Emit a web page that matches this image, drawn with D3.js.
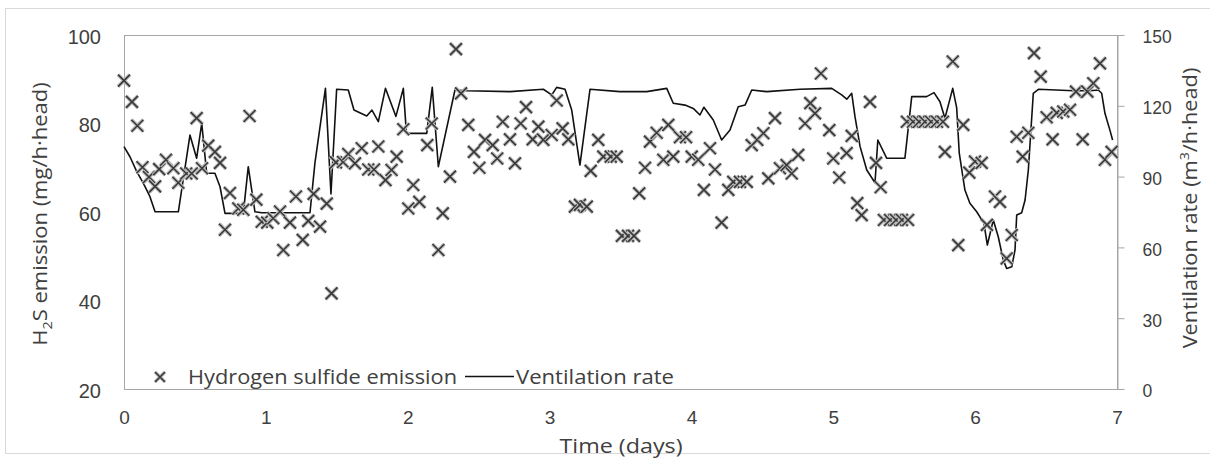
<!DOCTYPE html>
<html>
<head>
<meta charset="utf-8">
<script src="https://cdn.jsdelivr.net/npm/d3@7"></script>
<style>
  html, body { margin: 0; padding: 0; background: #fff; }
  svg { display: block; font-family: "Open Sans", "Noto Sans", sans-serif; }
</style>
</head>
<body>
<svg id="chart" width="1210" height="458"></svg>
<script>
// H2S emission samples: time (days) and emission (mg/h·head)
const emissionDays = [
  0.000, 0.056, 0.094, 0.130, 0.176, 0.219, 0.248, 0.296, 0.348, 0.383,
  0.439, 0.477, 0.512, 0.550, 0.594, 0.641, 0.677, 0.712, 0.747, 0.806,
  0.841, 0.885, 0.933, 0.971, 1.010, 1.052, 1.100, 1.123, 1.170, 1.212,
  1.260, 1.299, 1.337, 1.382, 1.429, 1.463, 1.494, 1.544, 1.581, 1.628,
  1.676, 1.722, 1.762, 1.793, 1.843, 1.886, 1.922, 1.969, 2.004, 2.039,
  2.082, 2.138, 2.169, 2.216, 2.247, 2.298, 2.340, 2.376, 2.427, 2.467,
  2.505, 2.545, 2.599, 2.631, 2.670, 2.721, 2.756, 2.796, 2.834, 2.881,
  2.921, 2.956, 3.015, 3.050, 3.092, 3.132, 3.179, 3.214, 3.262, 3.290,
  3.343, 3.379, 3.431, 3.473, 3.510, 3.553, 3.595, 3.632, 3.673, 3.708,
  3.755, 3.802, 3.837, 3.872, 3.919, 3.962, 4.002, 4.048, 4.088, 4.131,
  4.166, 4.213, 4.260, 4.295, 4.342, 4.390, 4.425, 4.464, 4.507, 4.542,
  4.589, 4.624, 4.671, 4.707, 4.753, 4.801, 4.838, 4.871, 4.913, 4.972,
  5.000, 5.042, 5.094, 5.130, 5.169, 5.200, 5.259, 5.301, 5.334, 5.357,
  5.400, 5.442, 5.484, 5.527, 5.519, 5.562, 5.604, 5.646, 5.689, 5.731,
  5.773, 5.787, 5.842, 5.881, 5.916, 5.959, 5.999, 6.046, 6.083, 6.140,
  6.175, 6.222, 6.258, 6.293, 6.335, 6.375, 6.415, 6.462, 6.504, 6.546,
  6.575, 6.621, 6.669, 6.711, 6.758, 6.791, 6.833, 6.880, 6.915, 6.962
];
const emissionValues = [
  89.7, 84.9, 79.5, 70.1, 67.9, 65.8, 69.7, 71.8, 69.9, 66.6,
  68.7, 68.7, 81.2, 69.9, 75.0, 73.6, 71.1, 56.0, 64.3, 60.8,
  60.5, 81.7, 62.8, 57.8, 57.6, 58.6, 60.1, 51.4, 57.6, 63.5,
  53.7, 58.0, 64.1, 56.7, 61.9, 41.6, 71.2, 71.3, 73.1, 71.0,
  74.4, 69.6, 69.6, 74.8, 67.2, 69.5, 72.5, 78.7, 60.8, 66.1,
  62.3, 75.1, 80.0, 51.4, 59.7, 68.0, 96.8, 86.8, 79.7, 73.6,
  70.0, 76.3, 75.1, 72.1, 80.4, 76.4, 71.0, 80.0, 83.7, 76.4,
  79.3, 76.3, 77.4, 85.2, 78.9, 76.4, 61.2, 61.6, 61.2, 69.3,
  76.3, 72.5, 72.5, 72.5, 54.6, 54.6, 54.6, 64.2, 70.0, 75.9,
  77.9, 71.8, 79.7, 72.5, 76.9, 76.9, 72.5, 71.8, 65.0, 74.4,
  69.6, 57.6, 65.0, 66.8, 66.8, 66.8, 75.1, 76.3, 77.8, 67.6,
  81.2, 69.9, 70.6, 68.7, 72.9, 80.0, 84.6, 82.3, 91.3, 78.5,
  72.1, 67.8, 73.3, 77.2, 62.0, 59.3, 84.9, 71.1, 65.6, 58.2,
  58.2, 58.2, 58.2, 58.2, 80.4, 80.4, 80.4, 80.4, 80.4, 80.4,
  80.4, 73.6, 94.0, 52.5, 79.7, 68.9, 71.4, 71.1, 57.1, 63.5,
  62.3, 49.5, 54.8, 77.0, 72.5, 77.9, 95.9, 90.6, 81.4, 76.4,
  82.4, 82.7, 83.1, 87.2, 76.4, 87.2, 89.1, 93.6, 71.8, 73.6
];

// Ventilation rate: time (days) and rate (m³/h·head)
const ventDays = [
  0.000, 0.042, 0.090, 0.136, 0.183, 0.219, 0.383, 0.465, 0.512, 0.548,
  0.583, 0.641, 0.677, 0.712, 0.841, 0.876, 0.923, 0.971, 1.311, 1.346,
  1.420, 1.459, 1.499, 1.581, 1.621, 1.711, 1.748, 1.793, 1.843, 1.917,
  1.969, 1.991, 2.134, 2.173, 2.216, 2.333, 2.416, 2.721, 2.956, 3.015,
  3.050, 3.109, 3.156, 3.214, 3.250, 3.285, 3.496, 3.685, 3.826, 3.872,
  3.955, 4.013, 4.060, 4.088, 4.154, 4.213, 4.272, 4.330, 4.378, 4.425,
  4.531, 4.765, 4.989, 5.059, 5.095, 5.130, 5.153, 5.189, 5.236, 5.294,
  5.314, 5.376, 5.505, 5.553, 5.658, 5.710, 5.752, 5.787, 5.842, 5.870,
  5.888, 5.928, 5.963, 6.011, 6.062, 6.086, 6.128, 6.163, 6.198, 6.222,
  6.258, 6.281, 6.293, 6.328, 6.352, 6.375, 6.410, 6.446, 6.692, 6.810,
  6.868, 6.892, 6.915, 6.950, 6.969
];
const ventValues = [
  102.7, 98.4, 92.1, 87.2, 81.5, 75.1, 75.1, 107.6, 97.8, 112.6,
  91.4, 91.4, 85.7, 74.4, 74.4, 94.2, 75.1, 74.7, 74.7, 95.8,
  127.4, 82.6, 127.0, 126.7, 118.2, 115.7, 118.2, 113.3, 127.4, 115.5,
  127.4, 108.3, 108.3, 127.8, 94.2, 126.7, 126.4, 126.0, 127.0, 124.6,
  127.8, 127.0, 118.2, 94.9, 111.2, 127.0, 126.0, 126.0, 127.4, 121.1,
  120.3, 118.9, 116.1, 119.4, 114.0, 105.5, 109.7, 119.6, 120.3, 126.7,
  126.0, 127.0, 127.4, 124.6, 122.8, 125.3, 115.4, 102.7, 92.8, 87.4,
  105.5, 97.8, 97.8, 123.9, 123.9, 125.6, 121.7, 114.7, 127.4, 119.1,
  99.9, 84.3, 78.7, 75.1, 70.2, 61.0, 71.6, 64.5, 54.7, 51.1,
  51.8, 58.9, 73.7, 74.7, 80.1, 92.8, 125.3, 127.0, 126.4, 126.4,
  126.7, 125.3, 116.8, 109.7, 105.5
];

// Axis ticks
const dayTicks = [0, 1, 2, 3, 4, 5, 6, 7];
const emissionTicks = [20, 40, 60, 80, 100];
const ventTicks = [0, 30, 60, 90, 120, 150];

const svg = d3.select("#chart");
const W = 1210, H = 458;
const plot = { left: 124, right: 1117, top: 35, bottom: 389 };

svg.append("rect").attr("width", W).attr("height", H).attr("fill", "#fff");
// outer chart frame
svg.append("rect")
  .attr("x", 5.5).attr("y", 8.5).attr("width", 1215).attr("height", 445)
  .attr("fill", "none").attr("stroke", "#d9d9d9");

const x = d3.scaleLinear().domain([0, 7]).range([plot.left, plot.right]);
const yL = d3.scaleLinear().domain([20, 100]).range([plot.bottom, plot.top]);
const yR = d3.scaleLinear().domain([0, 150]).range([plot.bottom, plot.top]);

const frameColor = "#a6a6a6";
const textColor = "#404040";

// plot area frame
svg.append("rect")
  .attr("x", plot.left + 0.5).attr("y", plot.top + 0.5)
  .attr("width", plot.right - plot.left).attr("height", plot.bottom - plot.top)
  .attr("fill", "none").attr("stroke", frameColor);

// bottom axis
const gx = svg.append("g")
  .attr("transform", `translate(0,${plot.bottom})`)
  .call(d3.axisBottom(x).tickValues(dayTicks).tickSize(0).tickPadding(22).tickFormat(d3.format("d")));
gx.select(".domain").remove();
gx.selectAll("text").attr("font-size", 19).attr("fill", textColor).attr("font-family", null);

// left axis
const gl = svg.append("g")
  .attr("transform", `translate(${plot.left},0)`)
  .call(d3.axisLeft(yL).tickValues(emissionTicks).tickSize(0).tickPadding(23));
gl.select(".domain").remove();
gl.selectAll("text").attr("font-size", 20).attr("fill", textColor).attr("font-family", null).attr("dy", "0.42em");

// right axis
const gr = svg.append("g")
  .attr("transform", `translate(${plot.right + 0.5},0)`)
  .call(d3.axisRight(yR).tickValues(ventTicks).tickSize(7).tickSizeOuter(0).tickPadding(18));
gr.select(".domain").attr("stroke", frameColor);
gr.selectAll(".tick line").attr("stroke", frameColor);
gr.selectAll("text").attr("font-size", 17.5).attr("fill", textColor).attr("font-family", null).attr("dy", "0.45em");

// axis titles
svg.append("text")
  .attr("x", 621).attr("y", 453)
  .attr("text-anchor", "middle").attr("font-size", 20).attr("fill", textColor)
  .attr("textLength", 123).attr("lengthAdjust", "spacingAndGlyphs")
  .text("Time (days)");

const lt = svg.append("text")
  .attr("transform", "translate(47,214) rotate(-90) scale(1.1,1)")
  .attr("text-anchor", "middle").attr("font-size", 20).attr("fill", textColor);
lt.append("tspan").text("H");
lt.append("tspan").attr("font-size", 13).attr("dy", 5).text("2");
lt.append("tspan").attr("dy", -5).text("S emission (mg/h·head)");

const rt = svg.append("text")
  .attr("transform", "translate(1197,208) rotate(-90) scale(1.09,1)")
  .attr("text-anchor", "middle").attr("font-size", 20).attr("fill", textColor);
rt.append("tspan").text("Ventilation rate (m");
rt.append("tspan").attr("font-size", 13).attr("dy", -8).text("3");
rt.append("tspan").attr("dy", 8).text("/h·head)");

// ventilation line
const ventLine = d3.line().x(d => x(d[0])).y(d => yR(d[1]));
svg.append("path")
  .datum(d3.zip(ventDays, ventValues))
  .attr("d", ventLine)
  .attr("fill", "none").attr("stroke", "#111").attr("stroke-width", 1.6)
  .attr("stroke-linejoin", "round");

// cross marker
const crossPath = (r) => `M${-r},${-r}L${r},${r}M${-r},${r}L${r},${-r}`;
function drawCross(g, r) {
  g.append("path").attr("d", crossPath(r)).attr("stroke", "#bdbdbd").attr("stroke-width", 3.8).attr("fill", "none");
  g.append("path").attr("d", crossPath(r)).attr("stroke", "#383838").attr("stroke-width", 1.6).attr("fill", "none");
}

const pts = svg.append("g").selectAll("g")
  .data(d3.zip(emissionDays, emissionValues))
  .join("g")
  .attr("transform", d => `translate(${x(d[0])},${yL(d[1])})`);
pts.each(function () { drawCross(d3.select(this), 6); });

// legend
const lg = svg.append("g");
drawCross(lg.append("g").attr("transform", "translate(160,377)"), 5);
lg.append("text").attr("x", 188).attr("y", 384).attr("font-size", 20).attr("fill", textColor)
  .attr("textLength", 269).attr("lengthAdjust", "spacingAndGlyphs")
  .text("Hydrogen sulfide emission");
lg.append("line").attr("x1", 465).attr("x2", 514).attr("y1", 376.5).attr("y2", 376.5)
  .attr("stroke", "#111").attr("stroke-width", 1.6);
lg.append("text").attr("x", 516).attr("y", 384).attr("font-size", 20).attr("fill", textColor)
  .attr("textLength", 158).attr("lengthAdjust", "spacingAndGlyphs")
  .text("Ventilation rate");
</script>
</body>
</html>
